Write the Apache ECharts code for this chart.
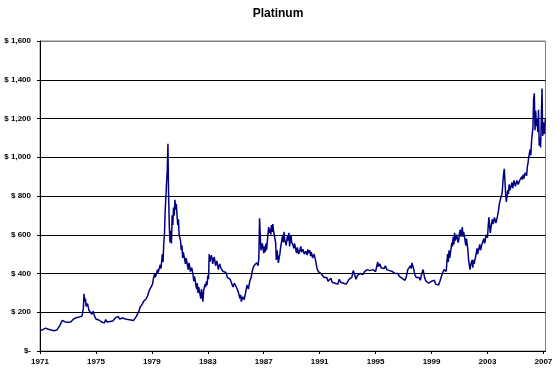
<!DOCTYPE html>
<html>
<head>
<meta charset="utf-8">
<script src="https://cdn.jsdelivr.net/npm/echarts@6/dist/echarts.min.js"></script>
<style>html,body{margin:0;padding:0;background:#fff;}#c{width:556px;height:371px;}</style>
</head>
<body>
<div id="c"></div>
<script>
var title = "Platinum";
var xTicks = [1971, 1975, 1979, 1983, 1987, 1991, 1995, 1999, 2003, 2007];
var yTicks = [0, 200, 400, 600, 800, 1000, 1200, 1400, 1600];
var years = [
1971.00,1971.10,1971.20,1971.30,1971.40,1971.50,1971.60,1971.70,1971.80,1971.90,
1972.00,1972.10,1972.20,1972.30,1972.40,1972.50,1972.60,1972.70,1972.80,1972.90,
1973.00,1973.10,1973.20,1973.30,1973.40,1973.50,1973.60,1973.70,1973.80,1973.90,
1974.00,1974.10,1974.15,1974.20,1974.25,1974.30,1974.40,1974.50,1974.60,1974.70,1974.80,1974.90,
1975.00,1975.10,1975.20,1975.30,1975.40,1975.50,1975.60,1975.70,1975.80,1975.90,
1976.00,1976.10,1976.20,1976.30,1976.40,1976.50,1976.60,1976.70,1976.80,1976.90,
1977.00,1977.10,1977.20,1977.30,1977.40,1977.50,1977.60,1977.70,1977.80,1977.90,
1978.00,1978.10,1978.15,1978.20,1978.30,1978.35,1978.40,1978.50,1978.60,1978.65,1978.70,1978.80,1978.85,1978.90,
1979.00,1979.05,1979.10,1979.20,1979.25,1979.30,1979.40,1979.45,1979.50,1979.60,1979.65,1979.70,1979.75,1979.80,1979.85,1979.90,1979.95,
1980.00,1980.05,1980.10,1980.15,1980.18,1980.20,1980.25,1980.30,1980.35,1980.40,1980.45,1980.50,1980.55,1980.60,1980.65,1980.70,1980.75,1980.80,1980.85,1980.90,1980.95,
1981.00,1981.05,1981.10,1981.15,1981.20,1981.25,1981.30,1981.35,1981.40,1981.45,1981.50,1981.55,1981.60,1981.65,1981.70,1981.75,1981.80,1981.85,1981.90,1981.95,
1982.00,1982.05,1982.10,1982.15,1982.20,1982.25,1982.30,1982.35,1982.40,1982.45,1982.50,1982.55,1982.60,1982.65,1982.70,1982.75,1982.80,1982.85,1982.90,1982.95,
1983.00,1983.05,1983.10,1983.15,1983.20,1983.25,1983.30,1983.35,1983.40,1983.45,1983.50,1983.55,1983.60,1983.65,1983.70,1983.75,1983.80,1983.85,1983.90,1983.95,
1984.00,1984.10,1984.20,1984.30,1984.40,1984.50,1984.60,1984.70,1984.80,1984.90,
1985.00,1985.10,1985.20,1985.30,1985.35,1985.40,1985.50,1985.60,1985.70,1985.80,1985.90,
1986.00,1986.10,1986.20,1986.30,1986.40,1986.50,1986.60,1986.65,1986.70,1986.75,1986.80,1986.90,
1987.00,1987.05,1987.10,1987.15,1987.20,1987.25,1987.30,1987.35,1987.40,1987.45,1987.50,1987.55,1987.60,1987.65,1987.70,1987.75,1987.80,1987.85,1987.90,1987.95,
1988.00,1988.05,1988.10,1988.15,1988.20,1988.25,1988.30,1988.35,1988.40,1988.45,1988.50,1988.55,1988.60,1988.65,1988.70,1988.75,1988.80,1988.85,1988.90,1988.95,
1989.00,1989.05,1989.10,1989.15,1989.20,1989.25,1989.30,1989.35,1989.40,1989.45,1989.50,1989.55,1989.60,1989.65,1989.70,1989.75,1989.80,1989.85,1989.90,1989.95,
1990.00,1990.05,1990.10,1990.15,1990.20,1990.25,1990.30,1990.35,1990.40,1990.45,1990.50,1990.55,1990.60,1990.70,1990.80,1990.90,
1991.00,1991.10,1991.20,1991.30,1991.40,1991.50,1991.60,1991.70,1991.80,1991.90,
1992.00,1992.10,1992.20,1992.30,1992.40,1992.50,1992.60,1992.70,1992.80,1992.90,
1993.00,1993.10,1993.20,1993.30,1993.40,1993.50,1993.60,1993.70,1993.80,1993.90,
1994.00,1994.10,1994.20,1994.30,1994.40,1994.50,1994.60,1994.70,1994.80,1994.90,
1995.00,1995.10,1995.15,1995.20,1995.30,1995.40,1995.50,1995.60,1995.70,1995.80,1995.90,
1996.00,1996.10,1996.20,1996.30,1996.40,1996.50,1996.60,1996.70,1996.80,1996.90,
1997.00,1997.10,1997.20,1997.30,1997.40,1997.50,1997.55,1997.60,1997.70,1997.80,1997.90,
1998.00,1998.10,1998.20,1998.30,1998.40,1998.50,1998.60,1998.70,1998.80,1998.90,
1999.00,1999.10,1999.20,1999.30,1999.40,1999.50,1999.60,1999.70,1999.80,1999.90,
2000.00,2000.05,2000.10,2000.15,2000.20,2000.25,2000.30,2000.35,2000.40,2000.45,2000.50,2000.55,2000.60,2000.65,2000.70,2000.75,2000.80,2000.85,2000.90,2000.95,
2001.00,2001.05,2001.10,2001.15,2001.20,2001.25,2001.30,2001.35,2001.40,2001.45,2001.50,2001.55,2001.60,2001.65,2001.70,2001.75,2001.80,2001.85,2001.90,2001.95,
2002.00,2002.05,2002.10,2002.15,2002.20,2002.25,2002.30,2002.35,2002.40,2002.45,2002.50,2002.55,2002.60,2002.65,2002.70,2002.75,2002.80,2002.85,2002.90,2002.95,
2003.00,2003.05,2003.10,2003.15,2003.20,2003.25,2003.30,2003.35,2003.40,2003.45,2003.50,2003.55,2003.60,2003.65,2003.70,2003.75,2003.80,2003.85,2003.90,2003.95,
2004.00,2004.05,2004.10,2004.15,2004.20,2004.25,2004.30,2004.35,2004.40,2004.45,2004.50,2004.55,2004.60,2004.65,2004.70,2004.75,2004.80,2004.85,2004.90,2004.95,
2005.00,2005.05,2005.10,2005.15,2005.20,2005.25,2005.30,2005.35,2005.40,2005.45,2005.50,2005.55,2005.60,2005.65,2005.70,2005.75,2005.80,2005.85,2005.90,2005.95,
2006.00,2006.05,2006.10,2006.15,2006.20,2006.25,2006.30,2006.35,2006.40,2006.45,2006.50,2006.55,2006.60,2006.65,2006.70,2006.75,2006.80,2006.85,2006.88,2006.90,2006.95,
2007.00,2007.07,2007.14
];
var prices = [
105,112,110,116,118,114,112,110,108,106,
105,104,108,106,130,135,158,162,150,155,
148,152,150,158,165,160,172,168,175,170,
180,220,295,255,270,230,245,210,200,190,205,180,
165,170,160,165,150,158,145,162,150,148,
152,145,155,150,172,168,178,165,162,170,
160,165,158,162,155,160,152,158,165,180,
190,210,225,235,240,232,255,250,270,262,285,310,300,325,
320,345,370,400,380,385,420,405,410,445,425,430,500,460,555,600,720,
790,870,930,1070,880,795,640,560,620,555,700,650,740,700,780,730,760,700,650,680,600,
600,570,520,545,480,510,500,470,450,480,470,440,420,455,440,410,400,430,420,390,
360,385,380,340,320,350,300,330,340,290,270,320,290,255,310,300,345,330,360,340,
390,370,500,460,470,495,480,450,460,485,470,440,440,465,455,420,430,450,460,425,
420,410,400,405,380,390,370,360,330,350,340,
320,300,270,290,255,280,265,300,340,320,360,
380,420,440,430,455,440,480,685,600,520,555,505,
540,510,555,520,560,600,640,610,630,600,650,615,655,620,600,580,560,470,520,490,
455,480,500,530,540,520,600,560,615,575,580,545,555,595,570,610,540,575,600,560,
570,545,530,555,550,520,505,535,530,500,495,525,540,510,500,525,520,500,490,515,
510,495,525,505,500,520,490,510,505,480,485,500,470,430,410,420,
400,390,380,370,380,360,350,375,355,365,
350,360,345,370,355,365,350,360,345,355,
370,365,380,415,395,370,390,385,400,405,
395,410,405,420,410,415,410,420,415,410,
420,460,435,450,430,440,425,440,420,430,415,
425,410,415,400,395,400,385,390,375,380,
365,385,420,410,440,425,455,430,395,380,370,
380,365,400,420,380,360,370,350,345,360,
350,365,345,355,340,360,350,405,420,430,
410,460,500,460,520,480,490,530,560,540,590,550,610,570,580,600,600,560,575,610,
625,590,600,640,590,615,610,570,545,580,575,520,470,480,420,445,440,470,430,470,
450,470,485,505,530,500,510,535,550,520,530,550,545,560,580,555,575,600,610,585,
640,690,650,610,600,660,680,655,670,690,690,660,665,690,700,730,760,775,790,800,
815,870,910,940,880,810,770,800,830,810,860,830,840,855,870,840,850,880,865,850,
860,880,875,860,865,880,880,870,900,885,910,890,900,920,930,905,950,970,1000,1020,
1040,1010,1080,1120,1150,1300,1330,1140,1240,1160,1200,1130,1245,1060,1100,1050,1200,1290,1355,1110,1180,
1120,1200,1245
];

var seriesData = years.map(function (y, i) { return [y, prices[i]]; });

function fmtY(v) {
  if (v === 0) return '$-';
  return '$ ' + String(v).replace(/\B(?=(\d{3})+(?!\d))/g, ',');
}
var splitColors = yTicks.map(function (v, i) { return i === yTicks.length - 1 ? '#808080' : '#000000'; });

var chart = echarts.init(document.getElementById('c'), null, { renderer: 'canvas' });
chart.setOption({
  animation: false,
  backgroundColor: '#ffffff',
  title: {
    text: title,
    left: 'center',
    top: 3,
    textStyle: { fontFamily: 'Arial, Liberation Sans', fontSize: 12, fontWeight: 'bold', color: '#000' }
  },
  grid: {
    left: 40, right: 10.5, top: 41, bottom: 20,
    show: true, borderColor: '#808080', borderWidth: 1, backgroundColor: 'transparent'
  },
  xAxis: {
    type: 'value',
    min: 1971, max: 2007.15,
    splitLine: { show: false },
    axisLine: { show: true, lineStyle: { color: '#000', width: 1 } },
    axisTick: { show: true, length: 3, customValues: xTicks, lineStyle: { color: '#000' } },
    axisLabel: {
      customValues: xTicks,
      formatter: function (v) { return String(v); },
      margin: 7,
      fontFamily: 'Arial, Liberation Sans', fontSize: 8, fontWeight: 'bold', color: '#000'
    }
  },
  yAxis: {
    type: 'value',
    min: 0, max: 1600, interval: 200,
    axisLine: { show: true, lineStyle: { color: '#000', width: 1 } },
    axisTick: { show: true, length: 3, lineStyle: { color: '#000' } },
    splitLine: { show: true, lineStyle: { color: splitColors, width: 1 } },
    axisLabel: {
      formatter: fmtY,
      margin: 9,
      fontFamily: 'Arial, Liberation Sans', fontSize: 8, fontWeight: 'bold', color: '#000'
    }
  },
  series: [{
    type: 'line',
    data: seriesData,
    showSymbol: false,
    symbol: 'none',
    lineStyle: { color: '#000080', width: 1.5 },
    z: 3
  }]
});
</script>
</body>
</html>
